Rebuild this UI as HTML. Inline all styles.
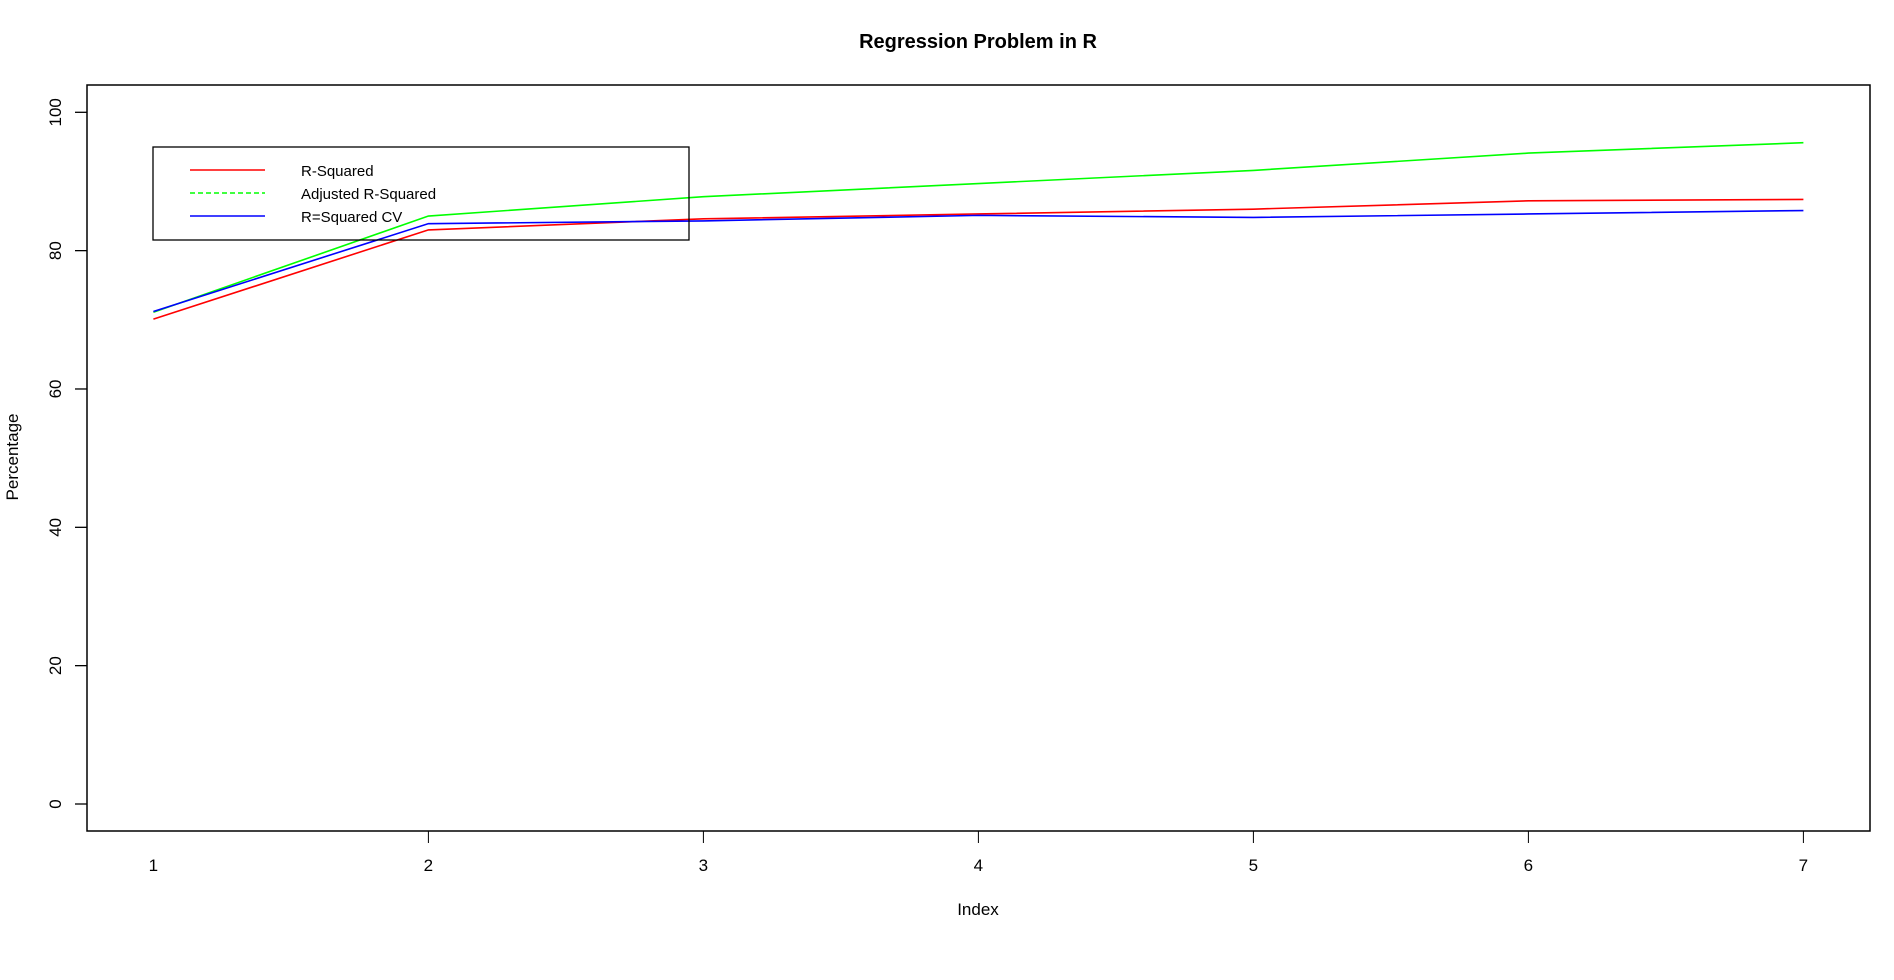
<!DOCTYPE html>
<html><head><meta charset="utf-8"><style>
html,body{margin:0;padding:0;background:#fff;}
svg{display:block;font-family:"Liberation Sans",Arial,sans-serif;}
</style></head><body>
<svg id="chart" width="1894" height="980" viewBox="0 0 1894 980">
<text x="978" y="48" text-anchor="middle" font-size="20" font-weight="bold">Regression Problem in R</text>
<rect x="87" y="85" width="1783" height="746" fill="none" stroke="#000" stroke-width="1.5"/>
<g id="xaxis"></g>
<g id="yaxis"></g>
<text x="978" y="915" text-anchor="middle" font-size="17">Index</text>
<text transform="translate(18,457) rotate(-90)" text-anchor="middle" font-size="17">Percentage</text>
<g id="series"></g>
<g>
<rect x="153" y="147" width="536" height="93" fill="none" stroke="#000" stroke-width="1.3"/>
<line x1="190" y1="170" x2="265" y2="170" stroke="#ff0000" stroke-width="1.5"/>
<text x="301" y="176" font-size="15">R-Squared</text>
<line x1="190" y1="193" x2="265" y2="193" stroke="#00ff00" stroke-width="1.5" stroke-dasharray="5,3"/>
<text x="301" y="199" font-size="15">Adjusted R-Squared</text>
<line x1="190" y1="216" x2="265" y2="216" stroke="#0000ff" stroke-width="1.5"/>
<text x="301" y="222" font-size="15">R=Squared CV</text>
</g>
</svg>
<script>
const categories = [1,2,3,4,5,6,7];
const rSquared = [70.1,83.0,84.6,85.3,86.0,87.2,87.4];
const adjRSquared = [71.1,85.0,87.8,89.7,91.6,94.1,95.6];
const rSquaredCV = [71.2,83.9,84.3,85.1,84.8,85.3,85.8];
const yTicks = [0,20,40,60,80,100];
const xTicks = [2,3,4,5,6,7];
const xLabels = [1,2,3,4,5,6,7];

const NS = "http://www.w3.org/2000/svg";
function xs(v){return 153.4 + (v-1)*275.0;}
function ys(v){return 804 - v*6.917;}
function mk(tag, attrs, parent){const e=document.createElementNS(NS,tag);for(const k in attrs)e.setAttribute(k,attrs[k]);parent.appendChild(e);return e;}

const xa=document.getElementById('xaxis');
xTicks.forEach(t=>{
  const l=mk('line',{x1:xs(t),y1:831,x2:xs(t),y2:843,stroke:'#000','stroke-width':1},xa);
  
  
});
xLabels.forEach(t=>{
  const tx=mk('text',{x:xs(t),y:871,'text-anchor':'middle','font-size':17},xa);
  tx.textContent=t;
  
  
});
const ya=document.getElementById('yaxis');
yTicks.forEach(t=>{
  const l=mk('line',{x1:75,y1:ys(t),x2:87,y2:ys(t),stroke:'#000','stroke-width':1.3},ya);
  
  
  const tx=mk('text',{transform:`translate(61,${ys(t)}) rotate(-90)`,'text-anchor':'middle','font-size':17},ya);
  tx.textContent=t;
  
  
});
const sg=document.getElementById('series');
function line(vals,color,name){
  const pts=vals.map((v,i)=>xs(categories[i])+','+ys(v)).join(' ');
  const p=mk('polyline',{points:pts,fill:'none',stroke:color,'stroke-width':1.6},sg);
  
  
}
line(adjRSquared,'#00ff00','adjusted-r-squared-line');
line(rSquared,'#ff0000','r-squared-line');
line(rSquaredCV,'#0000ff','r-squared-cv-line');
</script>
</body></html>
